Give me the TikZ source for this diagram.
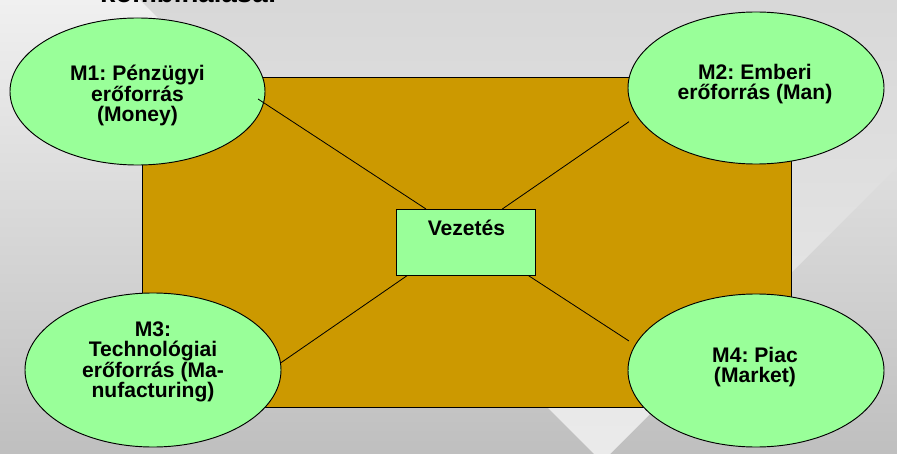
\documentclass[tikz,border=0pt]{standalone}
\usepackage{fontspec}
\setmainfont{Liberation Sans}
\usetikzlibrary{shapes.geometric}
\frenchspacing
\definecolor{bgtop}{HTML}{F0F0F0}
\definecolor{bgbot}{HTML}{BFBFBF}
\definecolor{wtop}{HTML}{D8D8D8}
\definecolor{wbot}{HTML}{EBEBEB}
\definecolor{gold}{HTML}{CC9900}
\definecolor{lgreen}{HTML}{99FF99}
\tikzset{
  mball/.style={ellipse, draw=black, fill=lgreen, line width=0.8pt, inner sep=0pt, minimum width=7.68cm, minimum height=4.56cm},
  mtext/.style={align=center, font=\fontsize{18}{17}\selectfont\bfseries\frenchspacing, inner sep=0pt},
  boxstyle/.style={rectangle, draw=black, fill=lgreen, line width=0.8pt, inner sep=0pt},
  link/.style={draw=black, line width=0.7pt}
}
\begin{document}
\begin{tikzpicture}[x=0.03cm, y=-0.03cm]
\clip (0,0) rectangle (897,454);
\useasboundingbox (0,0) rectangle (897,454);
% background
\shade[top color=bgtop, bottom color=bgbot] (0,0) rectangle (897,454);
\shade[top color=wtop, bottom color=wbot] (140,0) -- (1064,0) -- (602,462) -- cycle;
% cut-off title
\node[anchor=base, inner sep=0pt, font=\fontsize{23.6}{24}\selectfont\bfseries] (title) at (188.5,3) {kombinálása:};
% big rectangle
\node[rectangle, draw=black, fill=gold, line width=0.8pt, inner sep=0pt, minimum width=19.47cm, minimum height=9.9cm] (R) at (466.5,242) {};
% central box
\node[boxstyle, minimum width=4.17cm, minimum height=1.99cm] (V) at (466.2,242.2) {};
\node[inner sep=0pt, font=\fontsize{18}{18}\selectfont\bfseries] (Vt) at (466.5,227.5) {Vezetés};
% ellipses
\node[mball, minimum width=7.65cm, minimum height=4.41cm] (M1) at (137.5,91.5) {};
\node[mball] (M2) at (756,88) {};
\node[mball, minimum height=4.62cm] (M3) at (153,370) {};
\node[mball, minimum height=4.59cm] (M4) at (756,370.5) {};
\node[mtext] (t1) at (137.5,95) {M1: Pénzügyi\\erőforrás\\(Money)};
\node[mtext] (t2) at (755,84.5) {M2: Emberi\\erőforrás (Man)};
\node[mtext] (t3) at (153,361.5) {M3:\\Technológiai\\erőforrás (Ma-\\nufacturing)};
\node[mtext] (t4) at (755,367) {M4: Piac\\(Market)};
% connector endpoints
\coordinate (a1) at (258,99);
\coordinate (b1) at (426,209);
\coordinate (a2) at (629,121.7);
\coordinate (b2) at (502.3,209);
\coordinate (a3) at (281,362.7);
\coordinate (b3) at (407.3,275.5);
\coordinate (a4) at (629,341);
\coordinate (b4) at (528.3,275.5);
\draw[link] (a1) -- (b1);
\draw[link] (a2) -- (b2);
\draw[link] (a3) -- (b3);
\draw[link] (a4) -- (b4);
\end{tikzpicture}
\end{document}
